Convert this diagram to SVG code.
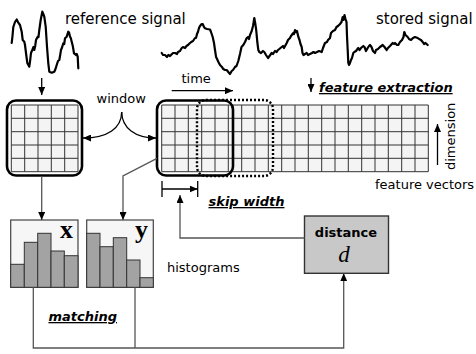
<svg xmlns="http://www.w3.org/2000/svg" width="476" height="354" viewBox="0 0 476 354">
<defs>
<style>
.t{font-family:"DejaVu Sans",Verdana,sans-serif;font-size:13px;fill:#000}
.big{font-size:15px}
.bi{font-family:"DejaVu Sans",Verdana,sans-serif;font-size:13px;font-weight:bold;font-style:italic;text-decoration:underline;fill:#000}
.b{font-family:"DejaVu Sans",Verdana,sans-serif;font-size:13px;font-weight:bold;fill:#000}
.ser{font-family:"Liberation Serif","Times New Roman",serif;fill:#000}
.sig{fill:none;stroke:#000;stroke-width:2.2;stroke-linejoin:round;stroke-linecap:round}
.cell{fill:#f4f4f4;stroke:none}
.gl{fill:none;stroke:#333;stroke-width:1}
.win{fill:none;stroke:#000;stroke-width:2.6}
.dot{fill:none;stroke:#000;stroke-width:2.4;stroke-dasharray:2 2}
.c{fill:none;stroke:#555;stroke-width:1.3}
.a{fill:none;stroke:#000;stroke-width:1.3}
.hbox{fill:#f6f6f6;stroke:#444;stroke-width:1.2}
.bar{fill:#a3a3a3;stroke:#333;stroke-width:1}
</style>
<marker id="ah" viewBox="0 0 8 7" refX="8" refY="3.5" markerWidth="8" markerHeight="7" markerUnits="userSpaceOnUse" orient="auto">
<path d="M0,0 L8,3.5 L0,7 z" fill="#000"/>
</marker>
</defs>

<g id="reference-signal">
<polyline class="sig" points="11.7,43 12.5,36 13.3,27 15,22 16.7,19.5 18.3,22.7 20,25 21.7,31.7 22.7,40 24.3,41.7 25,45 26,53 27.3,63 29.3,66.7 30.2,60 31,53 32.3,50 33.5,47 34.3,50 35.2,46 36,40 37.7,36.7 38.5,37 39.3,30 40.7,20 42.3,11.7 43.3,14 44.3,16.7 45.7,26.7 47,46.7 48.3,63.3 49.3,71.7 51.7,72.7 54.3,71.7 55.5,69 56.7,65 58,61 59.3,60 60.2,55 61,50 62.2,47 63.3,43.3 64.2,44 65,38.3 66.7,36.7 67.5,34 68.3,31.7 69.2,33 70,36.7 70.8,38 71.7,41.7 72.8,46 74,53.3 75,54 76,55 76.8,54 77.7,56.7 78.3,68.3"/>
<text class="t big" x="65" y="24">reference signal</text>
</g>

<g id="stored-signal">
<polyline class="sig" points="161.7,53 163,55 165,55 167,57 168.3,55 170,56 172,54 173,53 175,53 177,54 178,52 180,51 181.7,48 183,47 185,48 186.5,46 188,45 190,43 191.7,41.7 193,41 195,38 196,38 197,34 198,31.7 199,28 200,26 201.7,24 202.7,24 204,27 205,28.3 207,29 210,29.5 211,32 212.7,37 214,43 215,50 216,56.7 218.3,61.7 220,65 221.7,66.7 223.3,69 225,70 226.7,70 228.3,72 230,74 231.7,71 233,70 235,67 236.5,66 238.3,61 240,54 241.5,47 243.3,45 245,42 246.7,38 248,37 249,39 250,35 251.7,31 253,26 254.3,18 255.2,23 256.2,30 257.3,42 258.3,50 259.3,52 261,53 263,51 264.3,52 266,55 268,58 269.5,56 271.7,53 273,54 275,51 276.7,52 278,50 279.3,49 281.7,47 283,46 284,48 286.7,43 288,40 290,38 291,36 293.3,33 294,34 295,30 296,32 297,31 298.3,36.7 299.5,40 300.5,44 301.7,47 302.5,53 303.5,55 305,54 306.7,53 308,55 310,54 312,53 313.5,52 315,53 317,52 319,51 321.7,52 323,48 325,43 327,42 328,40 330,38 331,33 333,31 335,30 336.5,27 338,26 340,24 341.5,22 342.7,17 343.5,20 344.5,15 345.5,19 346.5,22 347,36 347.7,50 348.3,63 349,65 350,63 351,60 352,58 353.3,53 354.3,52 356,51 358.3,48 359.5,50 361,48 363.3,46 364.5,47 366,51 367.7,48 369,46 370,45 371.5,47 373,51 375,53 376,50 378,49 380,47 382.7,45 384.5,47 386.7,50 388,48 390,46 392.7,43 394,44 395,43 397,45 398.3,45 400,42 402,40 403.5,37 404.3,32 405.5,35 407.7,37 409,39 411,40 413,38 415,37 417.7,38 419,39 421,40 422.7,42 424,44 425.5,43 427.7,45"/>
<text class="t big" x="376" y="24">stored signal</text>
</g>

<g id="reference-grid">
<rect class="cell" x="11.3" y="105" width="66.7" height="66.7"/>
<path class="gl" d="M11.3,105V171.7M24.7,105V171.7M38,105V171.7M51.3,105V171.7M64.7,105V171.7M78,105V171.7M11.3,105H78M11.3,118.3H78M11.3,131.7H78M11.3,145H78M11.3,158.3H78M11.3,171.7H78"/>
<rect class="win" x="7" y="100.5" width="75" height="75" rx="9"/>
</g>

<g id="feature-vectors">
<rect class="cell" x="161.7" y="105" width="266.7" height="66.7"/>
<path class="gl" d="M161.7,105V171.7M175,105V171.7M188.3,105V171.7M201.7,105V171.7M215,105V171.7M228.3,105V171.7M241.7,105V171.7M255,105V171.7M268.3,105V171.7M281.7,105V171.7M295,105V171.7M308.3,105V171.7M321.7,105V171.7M335,105V171.7M348.3,105V171.7M361.7,105V171.7M375,105V171.7M388.3,105V171.7M401.7,105V171.7M415,105V171.7M428.3,105V171.7M161.7,105H428.3M161.7,118.3H428.3M161.7,131.7H428.3M161.7,145H428.3M161.7,158.3H428.3M161.7,171.7H428.3"/>
<rect class="win" x="157" y="100.5" width="76" height="75" rx="9"/>
<rect class="dot" x="197" y="100" width="76" height="76" rx="9"/>
<text class="t" x="375" y="189" font-size="12">feature vectors</text>
<text class="t" transform="translate(455,170) rotate(-90)" x="0" y="0">dimension</text>
</g>

<g id="histogram-x">
<rect class="hbox" x="10.7" y="220" width="67.3" height="67.3"/>
<rect class="bar" x="10.7" y="264.3" width="13.6" height="23"/>
<rect class="bar" x="24.3" y="242.3" width="13.4" height="45"/>
<rect class="bar" x="37.7" y="233.3" width="13.3" height="54"/>
<rect class="bar" x="51" y="251" width="13.3" height="36.3"/>
<rect class="bar" x="64.3" y="255.7" width="13.7" height="31.6"/>
<text class="ser" x="60" y="238" font-size="26" font-weight="bold">x</text>
</g>

<g id="histogram-y">
<rect class="hbox" x="86.7" y="220" width="66.6" height="67.3"/>
<rect class="bar" x="86.7" y="233.3" width="13.3" height="54"/>
<rect class="bar" x="100" y="246.7" width="13.3" height="40.6"/>
<rect class="bar" x="113.3" y="237.7" width="13.4" height="49.6"/>
<rect class="bar" x="126.7" y="260" width="13.3" height="27.3"/>
<rect class="bar" x="140" y="277.7" width="13.3" height="9.6"/>
<text class="ser" x="135" y="238" font-size="26" font-weight="bold">y</text>
</g>

<g id="distance">
<rect x="304.5" y="216" width="84" height="57.3" fill="#c8c8c8" stroke="#333" stroke-width="1.4"/>
<text class="b" x="346" y="236.5" text-anchor="middle">distance</text>
<text class="ser" x="344" y="261.5" font-size="23" font-style="italic" text-anchor="middle">d</text>
</g>

<g id="labels">
<text class="t" x="181.5" y="83">time</text>
<text class="t" x="96.5" y="103">window</text>
<text class="bi" x="319" y="92">feature extraction</text>
<text class="bi" x="208.5" y="206">skip width</text>
<text class="t" x="167" y="272">histograms</text>
<text class="bi" x="48.5" y="321">matching</text>
</g>

<g id="connectors">
<line class="a" x1="41.7" y1="78" x2="41.7" y2="95" marker-end="url(#ah)"/>
<line class="a" x1="171.7" y1="90.7" x2="233" y2="90.7" marker-end="url(#ah)"/>
<line class="a" x1="311" y1="78" x2="311" y2="92" marker-end="url(#ah)"/>
<line class="a" x1="437.5" y1="165" x2="437.5" y2="124" marker-end="url(#ah)"/>
<path class="a" d="M121.7,112 C121.5,128 108,138 83,138" marker-end="url(#ah)"/>
<path class="a" d="M121.7,112 C122,128 135,138 156,138" marker-end="url(#ah)"/>
<line class="a" x1="162" y1="181" x2="162" y2="197"/>
<line class="a" x1="197.7" y1="181" x2="197.7" y2="197"/>
<line class="a" x1="162" y1="189" x2="197.7" y2="189" marker-end="url(#ah)"/>
<line class="c" x1="41.7" y1="176" x2="41.7" y2="220" marker-end="url(#ah)"/>
<path class="c" d="M157,158.3 L123,176 V220" marker-end="url(#ah)"/>
<path class="c" d="M304.5,238 H180 V195" marker-end="url(#ah)"/>
<path class="c" d="M33.3,287.3 V348 H343.7 V273.3" marker-end="url(#ah)"/>
<line class="c" x1="135" y1="287.3" x2="135" y2="348"/>
</g>
</svg>
